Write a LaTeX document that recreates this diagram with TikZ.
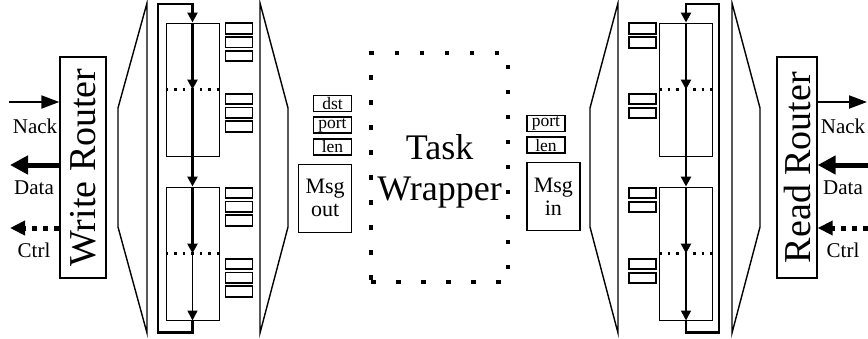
\documentclass[tikz,border=0pt]{standalone}
\usepackage{fontspec}
\setmainfont{Liberation Serif}
\usepackage{graphicx}
\usetikzlibrary{arrows.meta,positioning}

\begin{document}
\begin{tikzpicture}[x=1pt,y=-1pt]
    % Styles
        \tikzstyle{router} = [rectangle, draw, line width=1.3pt, minimum width=46pt, minimum height=221pt, inner sep=0pt, font=\fontsize{38}{40}\selectfont]
        \tikzstyle{block} = [rectangle, draw, line width=1pt, minimum width=53pt, minimum height=133pt, inner sep=0pt]
        \tikzstyle{reg} = [rectangle, draw, line width=1.8pt, minimum width=27pt, minimum height=10.5pt, inner sep=0pt]
        \tikzstyle{field} = [rectangle, draw, line width=1.6pt, minimum width=38pt, minimum height=16pt, inner sep=0pt, font=\fontsize{17.5}{18}\selectfont]
        \tikzstyle{msg} = [rectangle, draw, line width=1.4pt, minimum width=53pt, minimum height=68pt, align=center, inner sep=0pt, text depth=0pt, font=\fontsize{22}{23}\selectfont]
        \tikzstyle{wrapper} = [rectangle, draw, line width=4.5pt, dash pattern=on 4.5pt off 20.5pt, minimum width=137pt, minimum height=229pt, align=center, text depth=0pt, font=\fontsize{36}{41}\selectfont]
        \tikzstyle{funnel} = [draw, line width=1.4pt]
        \tikzstyle{flow} = [draw, line width=2.8pt, -{Triangle[length=10pt,width=10pt]}]
        \tikzstyle{split} = [draw, line width=2.4pt, dash pattern=on 2.5pt off 6pt]
        \tikzstyle{nack} = [draw, line width=2pt, -{Triangle[length=18pt,width=13pt]}]
        \tikzstyle{data} = [draw, line width=5pt, -{Triangle[length=18pt,width=18pt]}]
        \tikzstyle{ctrl} = [draw, line width=5pt, dash pattern=on 5pt off 6pt, -{Triangle[length=15pt,width=14pt]}]
        \tikzstyle{tag} = [anchor=base, inner sep=0pt, font=\fontsize{21}{22}\selectfont]
        \useasboundingbox (0,0) rectangle (868,338);
    % write side
        \node [router] (wr) at (83,167.5) {\rotatebox{90}{Write Router}};
        \coordinate (nackL) at (9,102);
        \coordinate (dataL) at (10,165);
        \coordinate (ctrlL) at (10,228);
        \path [nack] (nackL) -- (nackL -| wr.west);
        \path [data] (dataL -| wr.west) -- (dataL);
        \path [ctrl] (ctrlL -| wr.west) -- (ctrlL);
        \node [tag] (nackTagL) at (35,133) {Nack};
        \node [tag] (dataTagL) at (34,194) {Data};
        \node [tag] (ctrlTagL) at (34,257) {Ctrl};
        \path [funnel] (147,3) -- (118,108) -- (118,227) -- (147,333) -- cycle;
        \node [block] (fifoA) at (192.5,89.5) {};
        \node [block] (fifoB) at (192.5,253.5) {};
        \path [split] (fifoA.west) -- (fifoA.east);
        \path [split] (fifoB.west) -- (fifoB.east);
        \path [flow] (fifoA.north) -- (fifoA.center);
        \path [flow] (fifoA.center) -- (fifoB.north);
        \path [flow] (fifoB.north) -- (fifoB.center);
        \path [flow, line width=1.6pt] (fifoB.center) -- (fifoB.south);
        \path [flow] (fifoB.south) -- ++(0,12) -| (158,4) -| (fifoA.north);
        \foreach \y [count=\g] in {28.5,99,193,264}
            \foreach \k in {0,1,2}
                \node [reg] (wq\g\k) at (239,\y+13.7*\k) {};
        \path [funnel] (260,3) -- (288,108) -- (288,227) -- (260,333) -- cycle;
    % message out
        \node [field] (dst) at (332.5,103.5) {dst};
        \node [field, below=4pt of dst] (portOut) {port};
        \node [field, below=4pt of portOut] (lenOut) {len};
        \node [msg, below=8pt of lenOut.south east, anchor=north east] (msgOut) {Msg\\out};
    % task
        \node [wrapper] (task) at (439.5,167.5) {Task\\Wrapper};
    % message in
        \node [field] (portIn) at (546,123.5) {port};
        \node [field, below=4pt of portIn] (lenIn) {len};
        \node [msg, below=8pt of lenIn.south west, anchor=north west] (msgIn) {Msg\\in};
    % read side
        \path [funnel] (618,3) -- (590,108) -- (590,227) -- (618,333) -- cycle;
        \foreach \y [count=\g] in {28.5,99,193,264}
            \foreach \k in {0,1}
                \node [reg] (rq\g\k) at (642.5,\y+14*\k) {};
        \node [block] (fifoC) at (686,89.5) {};
        \node [block] (fifoD) at (686,253.5) {};
        \path [split] (fifoC.west) -- (fifoC.east);
        \path [split] (fifoD.west) -- (fifoD.east);
        \path [flow] (fifoC.north) -- (fifoC.center);
        \path [flow] (fifoC.center) -- (fifoD.north);
        \path [flow] (fifoD.north) -- (fifoD.center);
        \path [flow, line width=1.6pt] (fifoD.center) -- (fifoD.south);
        \path [flow] (fifoD.south) -- ++(0,12) -| (719,4) -| (fifoC.north);
        \path [funnel] (732,3) -- (760,108) -- (760,227) -- (732,333) -- cycle;
        \node [router, minimum width=40pt] (rr) at (797,167.5) {\rotatebox{90}{Read Router}};
        \coordinate (nackR) at (867,102);
        \coordinate (dataR) at (868,165);
        \coordinate (ctrlR) at (868,228);
        \path [nack] (nackR -| rr.east) -- (nackR);
        \path [data] (dataR) -- (dataR -| rr.east);
        \path [ctrl] (ctrlR) -- (ctrlR -| rr.east);
        \node [tag] (nackTagR) at (843,133) {Nack};
        \node [tag] (dataTagR) at (843,194) {Data};
        \node [tag] (ctrlTagR) at (843,257) {Ctrl};
\end{tikzpicture}
\end{document}
